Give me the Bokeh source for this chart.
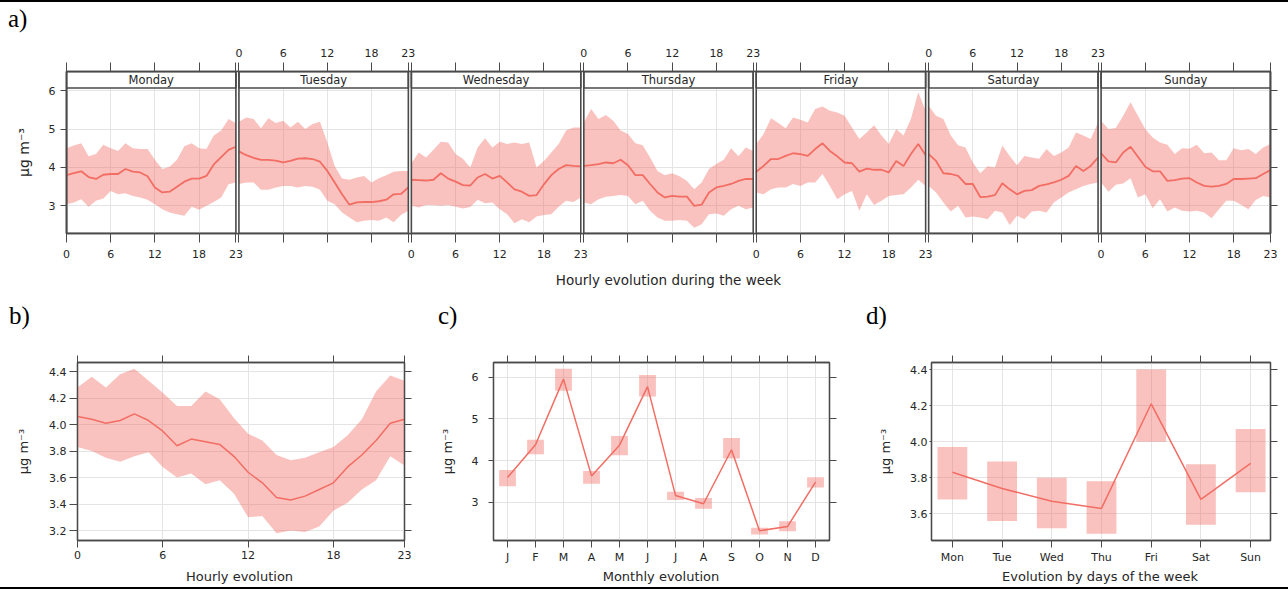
from bokeh.plotting import figure
from bokeh.models import (FixedTicker, CustomJSTickFormatter, LinearAxis, Div,
                          Range1d, PrintfTickFormatter)
from bokeh.layouts import column, row
from bokeh.embed import file_html
from bokeh.resources import INLINE
from bokeh.core.properties import value

# ---------------- data ----------------
HOURS = list(range(24))
DAYS = ["Monday", "Tuesday", "Wednesday", "Thursday", "Friday", "Saturday", "Sunday"]

MON_MEAN = [3.80, 3.85, 3.90, 3.75, 3.70, 3.81, 3.83, 3.83, 3.96, 3.89, 3.87, 3.77, 3.48, 3.35, 3.37, 3.50, 3.63, 3.71, 3.71, 3.78, 4.08, 4.27, 4.46, 4.54]
MON_UP = [4.50, 4.57, 4.63, 4.29, 4.35, 4.59, 4.50, 4.43, 4.63, 4.50, 4.48, 4.48, 4.20, 3.96, 4.02, 4.20, 4.55, 4.63, 4.50, 4.48, 4.83, 4.96, 5.26, 5.15]
MON_LO = [3.04, 3.09, 3.17, 2.98, 3.13, 3.19, 3.39, 3.30, 3.33, 3.26, 3.22, 3.16, 3.04, 2.91, 2.83, 2.78, 2.74, 2.98, 2.90, 3.00, 3.10, 3.22, 3.56, 3.61]

TUE_MEAN = [4.42, 4.32, 4.25, 4.20, 4.20, 4.18, 4.13, 4.17, 4.23, 4.24, 4.22, 4.15, 3.91, 3.61, 3.30, 3.03, 3.09, 3.10, 3.10, 3.12, 3.16, 3.30, 3.31, 3.48]
TUE_UP = [5.19, 5.30, 5.26, 5.02, 5.28, 5.16, 5.22, 5.04, 5.19, 5.00, 5.13, 5.19, 4.65, 4.04, 3.71, 3.68, 3.74, 3.78, 3.61, 3.72, 3.80, 3.89, 3.91, 3.91]
TUE_LO = [3.57, 3.61, 3.61, 3.42, 3.42, 3.48, 3.52, 3.52, 3.48, 3.52, 3.50, 3.42, 3.13, 3.04, 2.83, 2.70, 2.57, 2.61, 2.63, 2.61, 2.70, 2.57, 2.76, 2.87]

WED_MEAN = [3.68, 3.67, 3.66, 3.68, 3.85, 3.71, 3.63, 3.54, 3.53, 3.74, 3.83, 3.71, 3.78, 3.61, 3.43, 3.37, 3.26, 3.28, 3.56, 3.80, 3.96, 4.06, 4.04, 4.03]
WED_UP = [4.11, 4.39, 4.26, 4.46, 4.67, 4.65, 4.35, 4.23, 4.00, 4.52, 4.76, 4.52, 4.67, 4.61, 4.65, 4.61, 4.65, 4.00, 4.17, 4.39, 4.61, 4.96, 5.04, 5.04]
WED_LO = [3.00, 2.96, 3.02, 3.02, 3.00, 3.02, 2.98, 2.93, 2.97, 3.16, 3.07, 3.09, 2.91, 2.78, 2.55, 2.65, 2.57, 2.72, 2.76, 2.78, 2.98, 3.13, 3.10, 3.22]

THU_MEAN = [4.04, 4.06, 4.09, 4.13, 4.11, 4.20, 4.06, 3.80, 3.80, 3.57, 3.35, 3.22, 3.26, 3.24, 3.24, 3.00, 3.03, 3.35, 3.48, 3.52, 3.57, 3.65, 3.70, 3.70]
THU_UP = [5.17, 5.52, 5.26, 5.37, 5.22, 4.96, 4.87, 4.63, 4.58, 4.26, 3.91, 3.80, 3.85, 3.77, 3.65, 3.43, 3.61, 3.96, 4.09, 4.20, 4.50, 4.29, 4.52, 4.43]
THU_LO = [3.09, 3.04, 3.17, 3.24, 3.26, 3.28, 3.26, 3.04, 3.13, 2.87, 2.70, 2.61, 2.61, 2.63, 2.61, 2.43, 2.52, 2.78, 2.80, 2.74, 2.91, 3.00, 2.91, 2.96]

FRI_MEAN = [3.89, 4.04, 4.22, 4.22, 4.30, 4.37, 4.35, 4.30, 4.48, 4.63, 4.43, 4.29, 4.13, 4.11, 3.89, 3.97, 3.94, 3.94, 3.87, 4.17, 4.04, 4.35, 4.61, 4.32]
FRI_UP = [4.61, 4.87, 5.28, 5.16, 5.02, 5.30, 5.24, 5.17, 5.52, 5.59, 5.48, 5.43, 5.35, 5.04, 4.74, 4.91, 5.10, 4.83, 4.61, 5.00, 4.83, 5.26, 5.96, 5.48]
FRI_LO = [3.35, 3.30, 3.43, 3.48, 3.48, 3.57, 3.52, 3.61, 3.61, 3.83, 3.52, 3.17, 3.30, 3.39, 2.87, 3.30, 3.02, 3.13, 3.26, 3.28, 3.30, 3.48, 3.68, 3.52]

SAT_MEAN = [4.35, 4.17, 3.85, 3.83, 3.78, 3.57, 3.57, 3.23, 3.24, 3.28, 3.59, 3.43, 3.30, 3.39, 3.41, 3.52, 3.56, 3.61, 3.68, 3.78, 4.04, 3.91, 4.04, 4.26]
SAT_UP = [5.61, 5.35, 5.26, 4.83, 4.58, 4.52, 4.13, 3.85, 4.03, 4.00, 4.57, 4.30, 4.06, 4.30, 4.26, 4.23, 4.48, 4.30, 4.39, 4.52, 4.91, 4.83, 4.74, 5.17]
SAT_LO = [3.52, 3.35, 3.09, 2.85, 3.00, 2.70, 2.72, 2.70, 2.65, 2.87, 2.83, 2.50, 2.74, 2.65, 2.85, 2.87, 2.83, 3.09, 3.22, 3.35, 3.43, 3.52, 3.57, 3.61]

SUN_MEAN = [4.37, 4.16, 4.13, 4.39, 4.54, 4.28, 4.02, 3.90, 3.90, 3.65, 3.67, 3.71, 3.72, 3.61, 3.52, 3.50, 3.52, 3.57, 3.70, 3.70, 3.71, 3.72, 3.83, 3.93]
SUN_UP = [5.22, 5.00, 5.03, 5.35, 5.70, 5.35, 5.00, 4.78, 4.65, 4.59, 4.35, 4.50, 4.49, 4.59, 4.37, 4.39, 4.19, 4.19, 4.50, 4.45, 4.48, 4.35, 4.52, 4.61]
SUN_LO = [3.61, 3.37, 3.55, 3.58, 3.72, 3.22, 3.30, 2.94, 3.17, 2.85, 2.96, 2.87, 2.85, 2.87, 2.83, 2.68, 2.91, 3.13, 3.13, 3.03, 2.91, 3.15, 3.26, 3.22]

WEEK_MEAN = [MON_MEAN, TUE_MEAN, WED_MEAN, THU_MEAN, FRI_MEAN, SAT_MEAN, SUN_MEAN]
WEEK_UP = [MON_UP, TUE_UP, WED_UP, THU_UP, FRI_UP, SAT_UP, SUN_UP]
WEEK_LO = [MON_LO, TUE_LO, WED_LO, THU_LO, FRI_LO, SAT_LO, SUN_LO]

HOUR_MEAN = [4.06, 4.04, 4.01, 4.03, 4.08, 4.03, 3.95, 3.84, 3.89, 3.87, 3.85, 3.76, 3.64, 3.56, 3.45, 3.43, 3.46, 3.51, 3.56, 3.68, 3.77, 3.88, 4.01, 4.04]
HOUR_UP = [4.28, 4.36, 4.28, 4.38, 4.42, 4.33, 4.24, 4.14, 4.14, 4.25, 4.19, 4.05, 3.93, 3.88, 3.77, 3.73, 3.75, 3.79, 3.83, 3.92, 4.04, 4.25, 4.37, 4.33]
HOUR_LO = [3.83, 3.80, 3.75, 3.72, 3.76, 3.79, 3.68, 3.60, 3.63, 3.55, 3.58, 3.48, 3.30, 3.31, 3.18, 3.20, 3.19, 3.23, 3.35, 3.41, 3.51, 3.58, 3.76, 3.69]

MONTHS = ["J", "F", "M", "A", "M", "J", "J", "A", "S", "O", "N", "D"]
MONTH_MEAN = [3.59, 4.38, 5.96, 3.63, 4.37, 5.78, 3.16, 2.96, 4.26, 2.31, 2.41, 3.48]
MONTH_LO = [3.38, 4.15, 5.68, 3.44, 4.13, 5.54, 3.05, 2.84, 4.05, 2.22, 2.30, 3.35]
MONTH_UP = [3.77, 4.50, 6.21, 3.75, 4.59, 6.06, 3.25, 3.10, 4.54, 2.38, 2.54, 3.60]

WEEKDAYS = ["Mon", "Tue", "Wed", "Thu", "Fri", "Sat", "Sun"]
WD_MEAN = [3.83, 3.74, 3.67, 3.63, 4.21, 3.68, 3.88]
WD_LO = [3.68, 3.56, 3.52, 3.49, 4.00, 3.54, 3.72]
WD_UP = [3.97, 3.89, 3.80, 3.78, 4.40, 3.875, 4.07]

HOUR_TICKS = [0, 6, 12, 18, 23]
UNIT = "µg m⁻³"
PANEL_TAGS = ["a)", "b)", "c)", "d)"]
TOP_XLABEL = "Hourly evolution during the week"
SMALL_XLABELS = ["Hourly evolution", "Monthly evolution", "Evolution by days of the week"]

# ---------------- style ----------------
COL = "#f26d64"
FA = 0.42
AX = "#4a4a4a"
TXT = "#262626"
GRID = "#e4e4e4"
FONT = "DejaVu Sans"
SERIF_CSS = "font-family:'Liberation Serif',serif;font-size:25px;line-height:25px;color:#000;"
SANS_CSS = "font-family:'DejaVu Sans',sans-serif;font-size:13px;line-height:15px;color:%s;" % TXT

GAP = 0.41
PITCH = 23 + GAP
Y_BOT, Y_STRIP, Y_TOP = 2.28, 6.07, 6.50


def style_axis(ax, size="11px", out=7, standoff=5, hidden=False):
    ax.axis_line_color = AX
    ax.axis_line_width = 1.3
    ax.major_tick_line_color = AX
    ax.major_tick_out = out
    ax.major_tick_in = 0
    ax.minor_tick_line_color = None
    ax.major_label_text_font = FONT
    ax.major_label_text_font_size = size
    ax.major_label_text_color = TXT
    ax.major_label_standoff = 0 if hidden else standoff
    ax.axis_label_text_font = FONT
    ax.axis_label_text_font_style = "normal"
    ax.axis_label_text_color = TXT
    ax.axis_label_text_font_size = "13px"
    if hidden:
        ax.formatter = CustomJSTickFormatter(code="return '';")


def flex_row(cells, height, top_pad, css):
    """cells: list of (text, width, padding-left, align)"""
    inner = "".join(
        '<div style="flex:0 0 %dpx;width:%dpx;padding-left:%dpx;box-sizing:border-box;'
        'text-align:%s;white-space:nowrap;%s">%s</div>' % (w, w, pl, al, css, t)
        for t, w, pl, al in cells)
    return ('<div style="display:flex;flex-direction:row;width:1288px;height:%dpx;'
            'padding-top:%dpx;box-sizing:border-box;">%s</div>' % (height, top_pad, inner))


# ---------------- row 1 : line + tag a) ----------------
div_a = Div(text='<div style="width:1288px;height:2px;background:#000;"></div>'
                 '<div style="margin:4px 0 0 8px;%s">%s</div>' % (SERIF_CSS, PANEL_TAGS[0]),
            width=1288, height=40, margin=0)

# ---------------- panel a ----------------
pa = figure(width=1288, height=252, output_backend="svg", toolbar_location=None,
            x_range=Range1d(0, 6 * PITCH + 23), y_range=Range1d(Y_BOT, Y_TOP),
            min_border_left=66, min_border_right=18, min_border_top=31, min_border_bottom=59)
pa.outline_line_color = AX
pa.outline_line_width = 1.6

week_ticks = [d * PITCH + h for d in range(7) for h in HOUR_TICKS]
fmt_code = """
const P = %r;
const d = Math.floor((tick + 0.05) / P);
const h = Math.round(tick - d * P);
return (d %% 2 == %d) ? String(h) : "";
"""
bottom_ax = pa.xaxis[0]
bottom_ax.ticker = FixedTicker(ticks=week_ticks)
style_axis(bottom_ax, out=9, standoff=7)
bottom_ax.formatter = CustomJSTickFormatter(code=fmt_code % (PITCH, 0))
bottom_ax.axis_label = TOP_XLABEL
bottom_ax.axis_label_standoff = 11
bottom_ax.axis_label_text_font_size = "13.5px"

top_ax = LinearAxis(ticker=FixedTicker(ticks=week_ticks))
style_axis(top_ax, out=9, standoff=6)
top_ax.formatter = CustomJSTickFormatter(code=fmt_code % (PITCH, 1))
pa.add_layout(top_ax, "above")

left_ax = pa.yaxis[0]
left_ax.ticker = FixedTicker(ticks=[3, 4, 5, 6])
left_ax.axis_label = UNIT
style_axis(left_ax, out=6, standoff=5)
left_ax.axis_label_standoff = 14
left_ax.axis_label_text_font_size = "14px"
right_ax = LinearAxis(ticker=FixedTicker(ticks=[3, 4, 5, 6]))
style_axis(right_ax, out=7, hidden=True)
pa.add_layout(right_ax, "right")
for ax in (bottom_ax, top_ax, left_ax, right_ax):
    ax.axis_line_width = 1.6

pa.xgrid.ticker = FixedTicker(ticks=week_ticks)
pa.ygrid.ticker = FixedTicker(ticks=[3, 4, 5, 6])
pa.xgrid.grid_line_color = GRID
pa.ygrid.grid_line_color = GRID

lefts = [d * PITCH for d in range(7)]
rights = [d * PITCH + 23 for d in range(7)]
pa.quad(left=rights[:-1], right=lefts[1:], bottom=Y_BOT, top=Y_TOP,
        fill_color="white", line_color=None)
for d in range(7):
    xs = [d * PITCH + h for h in HOURS]
    pa.varea(x=xs, y1=WEEK_LO[d], y2=WEEK_UP[d], fill_color=COL, fill_alpha=FA)
    pa.line(x=xs, y=WEEK_MEAN[d], line_color=COL, line_width=1.8)
pa.quad(left=lefts, right=rights, bottom=Y_STRIP, top=Y_TOP,
        fill_color="white", line_color=AX, line_width=1.6)
pa.quad(left=lefts, right=rights, bottom=Y_BOT, top=Y_TOP,
        fill_color=None, line_color=AX, line_width=1.6)
pa.text(x=[d * PITCH + 11.5 for d in range(7)], y=(Y_STRIP + Y_TOP) / 2, text=DAYS,
        text_align="center", text_baseline="middle", text_font=value(FONT),
        text_font_size=value("11.5px"), text_color=TXT)

# ---------------- row 3 : tags b) c) d) ----------------
div_bcd = Div(text=flex_row([(PANEL_TAGS[1], 430, 9, "left"),
                             (PANEL_TAGS[2], 428, 8, "left"),
                             (PANEL_TAGS[3], 430, 8, "left")], 48, 11, SERIF_CSS),
              width=1288, height=48, margin=0)


# ---------------- bottom panels ----------------
def small_fig(width, bl, br, xr, yr, xticks, yticks, ylabels_fmt=None, xlabels=None,
              y_out=7, y_standoff=3, y_label_standoff=16):
    p = figure(width=width, height=226, x_range=Range1d(*xr), y_range=Range1d(*yr),
               min_border_left=bl, min_border_right=br, min_border_top=22,
               min_border_bottom=26, output_backend="svg", toolbar_location=None)
    p.outline_line_color = AX
    p.outline_line_width = 1.3
    xt = FixedTicker(ticks=xticks)
    yt = FixedTicker(ticks=yticks)
    xa = p.xaxis[0]
    ya = p.yaxis[0]
    xa.ticker = xt
    ya.ticker = yt
    p.xgrid.ticker = xt
    p.ygrid.ticker = yt
    p.xgrid.grid_line_color = GRID
    p.ygrid.grid_line_color = GRID
    style_axis(xa, out=7, standoff=3)
    style_axis(ya, out=y_out, standoff=y_standoff)
    if ylabels_fmt:
        ya.formatter = PrintfTickFormatter(format=ylabels_fmt)
    if xlabels:
        xa.major_label_overrides = {t: lab for t, lab in zip(xticks, xlabels)}
    ya.axis_label = UNIT
    ya.axis_label_standoff = y_label_standoff
    ta = LinearAxis(ticker=xt)
    style_axis(ta, out=7, hidden=True)
    p.add_layout(ta, "above")
    ra = LinearAxis(ticker=yt)
    style_axis(ra, out=7, hidden=True)
    p.add_layout(ra, "right")
    return p


pb = small_fig(430, 77, 26, (0, 23), (3.125, 4.468), HOUR_TICKS,
               [3.2, 3.4, 3.6, 3.8, 4.0, 4.2, 4.4], ylabels_fmt="%.1f",
               y_out=8, y_standoff=3, y_label_standoff=15)
pb.varea(x=HOURS, y1=HOUR_LO, y2=HOUR_UP, fill_color=COL, fill_alpha=FA)
pb.line(x=HOURS, y=HOUR_MEAN, line_color=COL, line_width=1.5)

month_idx = list(range(1, 13))
pc = small_fig(430, 63, 31, (0.5, 12.5), (2.075, 6.36), month_idx, [3, 4, 5, 6],
               xlabels=MONTHS, y_out=5, y_standoff=10, y_label_standoff=14)
pc.vbar(x=month_idx, width=0.6, bottom=MONTH_LO, top=MONTH_UP,
        fill_color=COL, fill_alpha=FA, line_color=None)
pc.line(x=month_idx, y=MONTH_MEAN, line_color=COL, line_width=1.5)

day_idx = list(range(1, 8))
pd_ = small_fig(428, 71, 18, (0.58, 7.4), (3.452, 4.439), day_idx,
                [3.6, 3.8, 4.0, 4.2, 4.4], ylabels_fmt="%.1f", xlabels=WEEKDAYS,
                y_out=2, y_standoff=2, y_label_standoff=14)
pd_.vbar(x=day_idx, width=0.6, bottom=WD_LO, top=WD_UP,
         fill_color=COL, fill_alpha=FA, line_color=None)
pd_.line(x=day_idx, y=WD_MEAN, line_color=COL, line_width=1.5)

# ---------------- x titles of the small panels + closing line ----------------
div_titles = Div(text=flex_row([(SMALL_XLABELS[0], 479, 0, "center"),
                                (SMALL_XLABELS[1], 364, 0, "center"),
                                ("", 69, 0, "center"),
                                (SMALL_XLABELS[2], 376, 0, "center")], 21, 3, SANS_CSS)
                      + '<div style="width:1288px;height:2px;background:#000;"></div>',
                 width=1288, height=24, margin=0)

layout = column(div_a, pa, div_bcd, row(pb, pc, pd_), div_titles)
open("out.html", "w").write(file_html(layout, INLINE, title="timeVariation"))
